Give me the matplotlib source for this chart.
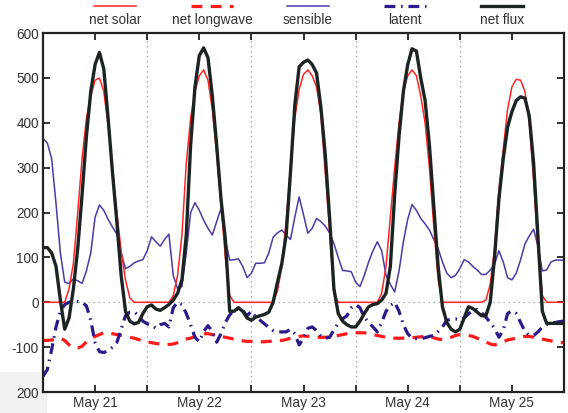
import matplotlib
matplotlib.use('Agg')
import matplotlib.pyplot as plt
from matplotlib.lines import Line2D
from matplotlib.patches import Rectangle
import pandas as pd

plt.rcParams['font.family'] = ['Liberation Sans', 'DejaVu Sans']

# hourly samples, May 21 00:00 -> May 26 00:00 (W/m2)
times = pd.date_range('2013-05-21 00:00', periods=121, freq='h')

net_solar = [
    0, 0, 0, 0, 0, 0, 30, 87, 200, 320, 410, 460, 495, 500, 470, 395, 300, 200, 115, 50, 10, 0, 0, 0,
    0, 0, 0, 0, 0, 0, 15, 60, 150, 310, 410, 470, 505, 518, 495, 430, 330, 220, 100, 15, 0, 0, 0, 0,
    0, 0, 0, 0, 0, 0, 25, 80, 180, 300, 410, 475, 508, 518, 505, 480, 420, 290, 160, 20, 0, 0, 0, 0,
    0, 0, 0, 0, 0, 0, 20, 80, 190, 300, 400, 470, 505, 518, 505, 460, 400, 300, 170, 50, 0, 0, 0, 0,
    0, 0, 0, 0, 0, 0, 5, 40, 120, 250, 340, 430, 480, 497, 495, 470, 400, 270, 120, 15, 0, 0, 0, 0,
    0]

net_longwave = [
    -85, -85, -84, -82, -80, -85, -95, -102, -102, -98, -88, -80, -76, -72, -68, -68, -70, -72, -74, -76, -78, -80, -83, -86,
    -88, -90, -92, -93, -94, -94, -93, -90, -86, -82, -80, -76, -72, -70, -70, -72, -74, -76, -78, -80, -82, -84, -86, -87,
    -87, -88, -88, -88, -87, -87, -86, -85, -83, -80, -78, -76, -75, -76, -77, -78, -78, -78, -77, -76, -74, -72, -70, -68,
    -68, -68, -68, -70, -72, -74, -76, -78, -80, -80, -80, -80, -80, -79, -78, -77, -76, -77, -79, -82, -83, -82, -78, -74,
    -72, -72, -74, -76, -80, -84, -88, -93, -95, -92, -88, -84, -82, -80, -78, -76, -76, -78, -80, -82, -84, -86, -88, -90,
    -90]

sensible = [
    365, 355, 320, 220, 110, 45, 42, 52, 48, 42, 70, 110, 190, 217, 205, 185, 168, 152, 110, 75, 80, 88, 92, 95,
    115, 146, 135, 125, 140, 152, 60, 30, 35, 110, 200, 222, 205, 183, 165, 150, 180, 209, 140, 94, 95, 97, 80, 55,
    65, 87, 87, 88, 110, 145, 155, 161, 150, 140, 190, 235, 195, 154, 165, 187, 180, 170, 155, 131, 100, 71, 70, 68,
    45, 35, 60, 90, 115, 135, 115, 60, 40, 23, 70, 135, 185, 218, 205, 187, 175, 161, 140, 120, 90, 65, 55, 60,
    75, 95, 90, 80, 72, 62, 62, 72, 85, 115, 90, 55, 50, 65, 95, 130, 148, 163, 125, 70, 72, 90, 94, 94,
    94]

latent = [
    -165, -150, -105, -55, -20, -5, 0, 2, 2, 0, -8, -40, -90, -110, -112, -108, -100, -90, -60, -30, -22, -21, -30, -42,
    -48, -51, -58, -50, -47, -55, -12, 0, -5, -25, -50, -78, -88, -65, -52, -65, -89, -70, -45, -28, -18, -15, -18, -30,
    -20, -33, -40, -48, -56, -63, -66, -66, -66, -60, -70, -95, -80, -58, -55, -63, -76, -80, -78, -62, -46, -37, -30, -12,
    -5, -12, -33, -45, -55, -66, -45, -20, -7, 0, -20, -50, -70, -80, -81, -81, -79, -76, -74, -65, -55, -40, -38, -37,
    -40, -35, -26, -18, -16, -23, -33, -45, -58, -78, -62, -25, -19, -25, -45, -65, -74, -74, -66, -55, -50, -47, -45, -43,
    -42]

net_flux = [
    122, 122, 110, 80, 5, -60, -35, 30, 120, 240, 370, 470, 530, 557, 520, 410, 290, 180, 60, -20, -42, -48, -45, -25,
    -10, -6, -15, -18, -12, -5, 5, 20, 50, 150, 350, 480, 550, 567, 545, 460, 350, 230, 140, -20, -20, -12, -20, -35,
    -40, -33, -30, -27, -22, 0, 45, 86, 150, 290, 440, 525, 535, 540, 530, 511, 435, 330, 190, 30, -25, -42, -50, -55,
    -55, -42, -25, -10, -5, -3, 5, 20, 80, 240, 370, 470, 530, 565, 560, 500, 450, 350, 215, 80, -10, -45, -60, -66,
    -60, -35, -10, -14, -22, -30, -30, 0, 100, 230, 320, 390, 425, 450, 458, 455, 415, 310, 145, -20, -47, -47, -47, -47,
    -47]

legend_names = ['net solar', 'net longwave', 'sensible', 'latent', 'net flux']
y_ticks = [-200, -100, 0, 100, 200, 300, 400, 500, 600]
y_labels = ['200', '-100', '0', '100', '200', '300', '400', '500', '600']
day_labels = ['May 21', 'May 22', 'May 23', 'May 24', 'May 25']

styles = [
    dict(color='#ff2424', lw=1.1, ls='-'),
    dict(color='#ff1a1a', lw=2.3, dashes=(3.4, 2.6)),
    dict(color='#4b3aa6', lw=1.1, ls='-'),
    dict(color='#2a1a8c', lw=2.3, dashes=(3.4, 1.8, 0.5, 1.8)),
    dict(color='#1b2323', lw=2.4, ls='-'),
]

fig = plt.figure(figsize=(5.68, 4.13), dpi=100)
fig.patch.set_facecolor('white')
ax = fig.add_axes([0.0757, 0.0508, 0.9173, 0.869])

series = [net_solar, net_longwave, sensible, latent, net_flux]
zorders = [3, 2, 2, 2, 4]
for s, st, z in zip(series, styles, zorders):
    ax.plot(times, s, zorder=z, solid_capstyle='round', solid_joinstyle='round', **st)

ax.axhline(0, color='#999999', lw=0.9, ls=(0, (1, 3)), zorder=1)

ax.set_xlim(times[0], times[-1])
ax.set_ylim(-200, 600)
ax.set_yticks(y_ticks)
ax.set_yticklabels(y_labels)

noons = pd.date_range('2013-05-21 12:00', periods=5, freq='D')
mids = pd.date_range('2013-05-22 00:00', periods=4, freq='D')
ax.set_xticks(noons)
ax.set_xticklabels(day_labels)
ax.set_xticks(mids, minor=True)
ax.xaxis.grid(True, which='minor', color='#999999', lw=0.9, ls=(0, (1, 3)))

ax.tick_params(which='both', direction='in', top=True, right=True, length=5, width=1.3,
               color='#222222', labelsize=9.8, labelcolor='#333333', pad=3)
for sp in ax.spines.values():
    sp.set_linewidth(1.6)
    sp.set_color('#222222')

# light box in the lower left corner
fig.patches.append(Rectangle((0, 0), 47 / 568, 41 / 413, transform=fig.transFigure,
                             facecolor='#f2f2f2', edgecolor='none', zorder=-1))

# legend: line above each label
centers = [115, 212, 308, 405, 502]
for cx, name, st in zip(centers, legend_names, styles):
    x0 = (cx - 21) / 568
    x1 = (cx + 21) / 568
    fig.add_artist(Line2D([x0, x1], [0.986, 0.986], transform=fig.transFigure, **st))
    fig.text(cx / 568, 0.951, name, ha='center', va='center', fontsize=9.8, color='#333333')

fig.savefig('out.png', dpi=100)
